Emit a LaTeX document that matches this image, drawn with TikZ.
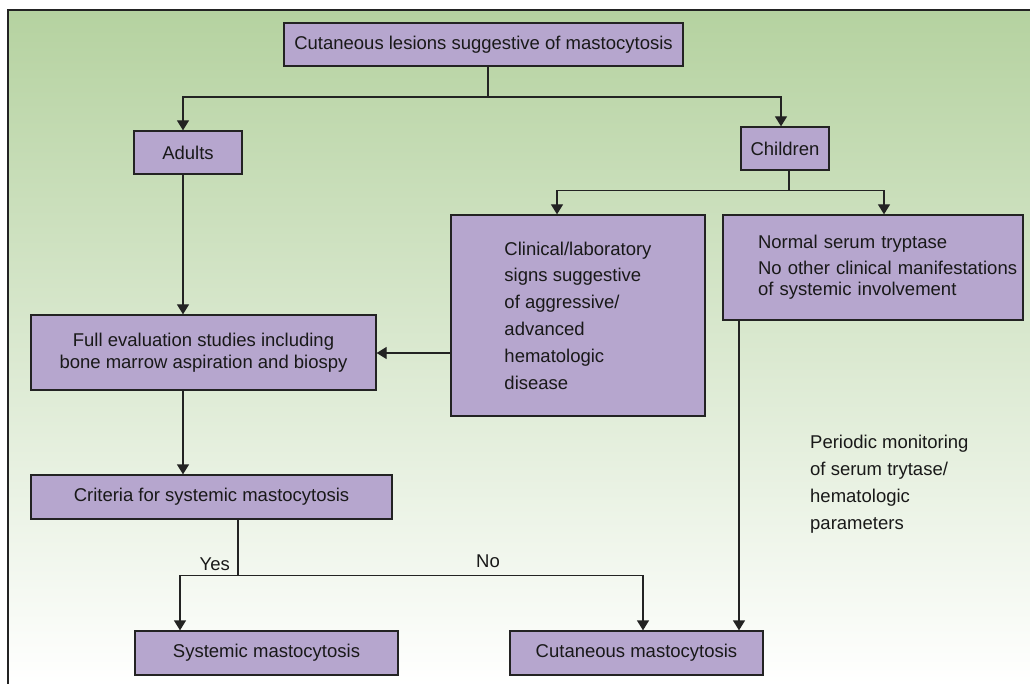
\documentclass[tikz,border=0pt]{standalone}
\usepackage{fontspec}
\setmainfont{Liberation Sans}
\usetikzlibrary{arrows.meta}
\definecolor{boxfill}{RGB}{182,166,206}
\definecolor{edgec}{RGB}{35,35,35}
\definecolor{bgtop}{RGB}{181,210,160}
\definecolor{txt}{RGB}{25,25,25}
\begin{document}
\begin{tikzpicture}[x=1pt,y=-1pt,
  box/.style={draw=edgec, line width=1.3pt, fill=boxfill, inner sep=0pt, text=txt,
    font=\fontsize{18.5}{22}\selectfont, align=center},
  conn/.style={draw=edgec, line width=1.3pt},
  arr/.style={conn, -{Triangle[width=12pt,length=10pt]}},
  lbl/.style={text=txt, inner sep=0pt, font=\fontsize{18.5}{22}\selectfont}]
\useasboundingbox (0,0) rectangle (1030,684);
\shade[top color=bgtop, bottom color=white] (8,10) rectangle (1030,684);
\draw[edgec, line width=1.3pt] (8,684) -- (8,10) -- (1030,10);

\node[box, minimum width=399pt, minimum height=43pt] (top) at (483.5,44.5) {Cutaneous lesions suggestive of mastocytosis};
\node[box, minimum width=108pt, minimum height=43pt] (adults) at (188,152.5) {Adults};
\node[box, minimum width=88pt, minimum height=43pt] (children) at (785,148.5) {Children};
\node[box, minimum width=254pt, minimum height=201pt, align=left,
  font=\fontsize{18.5}{26.8}\selectfont] (clinical) at (578,315.5)
  {Clinical/laboratory\\signs suggestive\\of aggressive/\\advanced\\hematologic\\disease};
\node[box, minimum width=300pt, minimum height=105pt, align=left, text width=230pt,
  font=\fontsize{18.5}{21.7}\selectfont] (normal) at (873,267.5)
  {\mbox{Normal serum tryptase}\\[4pt]\mbox{No other clinical manifestations}\\\mbox{of systemic involvement}\\[6pt]};
\node[box, minimum width=345pt, minimum height=75pt,
  font=\fontsize{18.5}{21.7}\selectfont] (full) at (203.5,352.5)
  {Full evaluation studies including\\bone marrow aspiration and biospy};
\node[box, minimum width=361pt, minimum height=44pt] (criteria) at (211.5,497) {Criteria for systemic mastocytosis};
\node[box, minimum width=263pt, minimum height=44pt] (systemic) at (266.5,653) {Systemic mastocytosis};
\node[box, minimum width=253pt, minimum height=44pt] (cutaneous) at (636.5,653) {Cutaneous mastocytosis};
\node[lbl, anchor=west, align=left, font=\fontsize{18.5}{27}\selectfont] (periodic) at (810,484)
  {Periodic monitoring\\of serum trytase/\\hematologic\\parameters};

\coordinate (j1) at (488,97);
\draw[conn] (top.south -| j1) -- (j1);
\draw[arr] (j1) -| ([xshift=-5pt]adults.north);
\draw[arr] (j1) -| ([xshift=-4pt]children.north);
\draw[arr] ([xshift=-5pt]adults.south) -- ([xshift=-5pt]adults.south |- full.north);
\draw[conn] ([xshift=4pt]children.south) -- ++(0,20) coordinate (j2);
\draw[arr] (j2) -| ([xshift=-21pt]clinical.north);
\draw[arr] (j2) -| ([xshift=11pt]normal.north);
\draw[arr] ([yshift=-37.5pt]clinical.west) -- ([yshift=-37.5pt]clinical.west -| full.east);
\draw[arr] ([xshift=-20.5pt]full.south) -- ([xshift=-20.5pt]full.south |- criteria.north);
\draw[conn] ([xshift=26.5pt]criteria.south) -- ++(0,56) coordinate (j3);
\draw[arr] (j3) -| ([xshift=-86.5pt]systemic.north);
\draw[arr] (j3) -| ([xshift=6.5pt]cutaneous.north);
\draw[arr] ([xshift=-134pt]normal.south) -- ([xshift=-134pt]normal.south |- cutaneous.north);

\node[lbl, anchor=base east] (yes) at (230,570) {Yes};
\node[lbl, anchor=base] (no) at (488,567) {No};
\end{tikzpicture}
\end{document}
